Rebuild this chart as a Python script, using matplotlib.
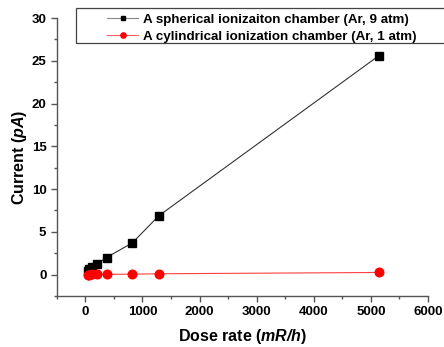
import matplotlib
matplotlib.use("Agg")
import matplotlib.pyplot as plt
from matplotlib.lines import Line2D
from matplotlib.patches import Rectangle

plt.rcParams['font.family'] = ['Liberation Sans', 'DejaVu Sans']
plt.rcParams['font.weight'] = 'bold'
plt.rcParams['mathtext.fontset'] = 'custom'
plt.rcParams['mathtext.bfit'] = 'Liberation Sans:italic:bold'
plt.rcParams['mathtext.it'] = 'Liberation Sans:italic:bold'
plt.rcParams['mathtext.rm'] = 'Liberation Sans:bold'

# dose rate (mR/h)
dose = [40, 70, 120, 200, 370, 820, 1290, 5140]
# spherical chamber (Ar, 9 atm), current in pA
sph_current = [0.4, 0.6, 0.9, 1.2, 2.0, 3.7, 6.9, 25.6]
# cylindrical chamber (Ar, 1 atm)
cyl_current = [0.01, 0.01, 0.02, 0.02, 0.03, 0.05, 0.1, 0.25]
labels = ['A spherical ionizaiton chamber (Ar, 9 atm)',
          'A cylindrical ionization chamber (Ar, 1 atm)']

fig = plt.figure(figsize=(4.44, 3.47), dpi=100)
ax = fig.add_axes([0.128, 0.147, 0.836, 0.801])

ax.plot(dose, sph_current, color='#333333', lw=0.8, marker='s', ms=6,
        mfc='black', mec='black')
ax.plot(dose, cyl_current, color='#ff4040', lw=0.8, marker='o', ms=6.2,
        mfc='red', mec='red')

ax.set_xlim(-500, 6000)
ax.set_ylim(-2.5, 30)
ax.set_xticks(range(0, 6001, 1000))
ax.set_xticks(range(-500, 6001, 500), minor=True)
ax.set_yticks(range(0, 31, 5))
ax.set_yticks([-2.5 + 2.5 * i for i in range(14)], minor=True)

for s in ['top', 'right']:
    ax.spines[s].set_visible(False)
for s in ['left', 'bottom']:
    ax.spines[s].set_color('#555555')
    ax.spines[s].set_linewidth(1.0)

ax.tick_params(which='major', direction='out', length=4, width=1, color='#555555', labelsize=9.5)
ax.tick_params(which='minor', direction='out', length=2.5, width=1, color='#555555')

ax.set_xlabel(r'Dose rate ($\mathbfit{mR/h}$)', fontsize=11.5, fontweight='bold', labelpad=6)
ax.set_ylabel(r'Current ($\mathbfit{pA}$)', fontsize=11.5, fontweight='bold', labelpad=1.5)

# legend: frame drawn separately so it runs off the right edge like the original
handles = [Line2D([], [], color='#888888', lw=0.8, marker='s', ms=3.5, mfc='black', mec='black'),
           Line2D([], [], color='#ff6060', lw=0.8, marker='o', ms=3.8, mfc='red', mec='red')]
leg = fig.legend(handles, labels, loc='upper left', bbox_to_anchor=(0.236, 0.968),
                 fontsize=9.6, frameon=False, borderpad=0.2, labelspacing=0.35,
                 handlelength=2.3, handletextpad=0.35, borderaxespad=0)
fig.patches.append(Rectangle((76 / 444, 1 - 43 / 347), 0.9, 35 / 347,
                             transform=fig.transFigure, fill=False,
                             edgecolor='#444444', lw=0.9))

fig.savefig('out.png', dpi=100)
